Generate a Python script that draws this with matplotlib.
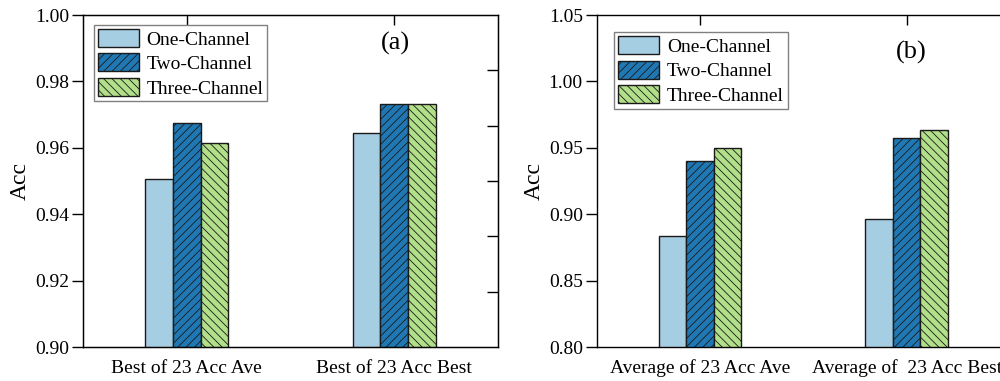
import matplotlib
matplotlib.use('Agg')
import matplotlib.pyplot as plt
import numpy as np

plt.rcParams['font.family'] = ['Liberation Serif', 'DejaVu Serif']
plt.rcParams['hatch.linewidth'] = 0.6

series = ['One-Channel', 'Two-Channel', 'Three-Channel']
colors = ['#a6cee3', '#1f78b4', '#b2df8a']
hatches = ['', '////', '\\\\\\\\']

cats_a = ['Best of 23 Acc Ave', 'Best of 23 Acc Best']
acc_a = [[0.9507, 0.9644],   # One-Channel
         [0.9674, 0.9731],   # Two-Channel
         [0.9615, 0.9733]]   # Three-Channel

cats_b = ['Average of 23 Acc Ave', 'Average of  23 Acc Best']
acc_b = [[0.8838, 0.8961],
         [0.9398, 0.9576],
         [0.9499, 0.9636]]

fig = plt.figure(figsize=(10, 3.81), dpi=100)
ax1 = fig.add_axes([0.083, 0.0892, 0.415, 0.8714])
ax2 = fig.add_axes([0.5967, 0.0892, 0.4133, 0.8714])


def draw(ax, cats, vals, ylim, yticks, tag, tagpos, legpos):
    x = np.arange(1, len(cats) + 1)
    w = 0.133
    for i, name in enumerate(series):
        ax.bar(x + (i - 1) * w, vals[i], w, color=colors[i], edgecolor='#1a1a1a',
               linewidth=1.0, hatch=hatches[i], label=name, zorder=2)
    ax.set_xlim(0.5, len(cats) + 0.5)
    ax.set_ylim(*ylim)
    ax.set_yticks(yticks)
    ax.set_yticklabels(['%.2f' % t for t in yticks])
    ax.set_xticks(x)
    ax.set_xticklabels(cats)
    ax.tick_params(axis='y', direction='out', length=8, width=1, labelsize=14, pad=2)
    ax.tick_params(axis='x', direction='in', length=7, width=1, labelsize=14,
                   top=True, pad=9)
    for s in ax.spines.values():
        s.set_linewidth(1.0)
    ax.set_ylabel('Acc', fontsize=17, labelpad=3)
    ax.text(tagpos[0], tagpos[1], tag, transform=ax.transAxes, fontsize=19,
            ha='center', va='center')
    leg = ax.legend(loc='upper left', bbox_to_anchor=legpos, fontsize=14,
                    handlelength=2.1, handleheight=1.05, labelspacing=0.25,
                    handletextpad=0.4, borderpad=0.2, borderaxespad=0,
                    fancybox=False, framealpha=1)
    leg.get_frame().set_edgecolor('#808080')
    leg.get_frame().set_linewidth(1.0)


draw(ax1, cats_a, acc_a, (0.90, 1.00), [0.90, 0.92, 0.94, 0.96, 0.98, 1.00],
     '(a)', (0.752, 0.915), (0.026, 0.97))
draw(ax2, cats_b, acc_b, (0.80, 1.05), [0.80, 0.85, 0.90, 0.95, 1.00, 1.05],
     '(b)', (0.76, 0.888), (0.043, 0.948))

# unlabelled inward ticks on the right edge of panel (a)
axr = ax1.twinx()
axr.set_ylim(0, 6)
axr.set_yticks([1, 2, 3, 4, 5])
axr.set_yticklabels([])
axr.tick_params(axis='y', direction='in', length=8, width=1)

fig.savefig('out.png', dpi=100)
